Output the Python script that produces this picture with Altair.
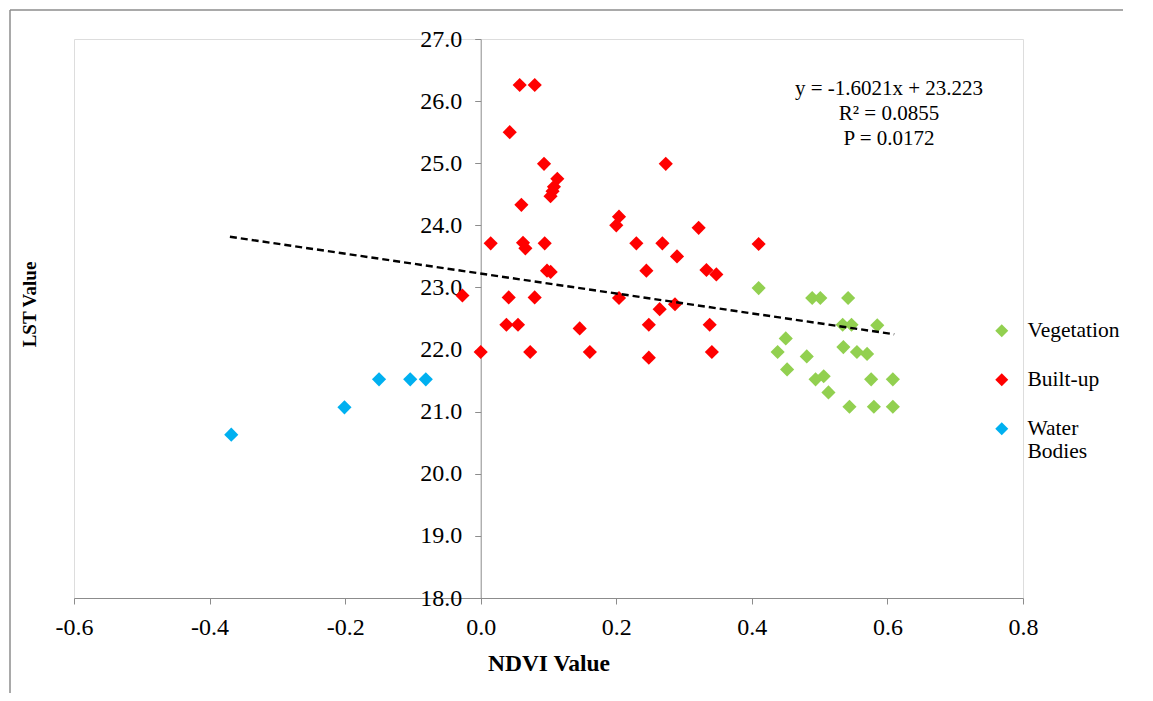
import altair as alt
import pandas as pd

# ---- data ----
veg_x = [0.410, 0.489, 0.501, 0.542, 0.534, 0.547, 0.585, 0.450, 0.438, 0.481, 0.535,
         0.555, 0.570, 0.452, 0.494, 0.506, 0.513, 0.576, 0.608, 0.544, 0.580, 0.608]
veg_y = [22.99, 22.83, 22.83, 22.83, 22.40, 22.40, 22.39, 22.18, 21.96, 21.89, 22.04,
         21.96, 21.93, 21.68, 21.52, 21.57, 21.31, 21.52, 21.52, 21.08, 21.08, 21.08]

built_x = [0.0575, 0.0797, 0.0428, 0.0934, 0.273, 0.113, 0.108, 0.106, 0.103, 0.060,
           0.200, 0.204, 0.3215, 0.0147, 0.0624, 0.0659, 0.0944, 0.2296, 0.268, 0.2896,
           0.410, 0.333, 0.3476, 0.0978, 0.1032, 0.2444, -0.027, 0.0413, 0.0796, 0.204,
           0.264, 0.2866, 0.0379, 0.055, 0.146, 0.248, 0.3378, 0.0, 0.073, 0.161, 0.248, 0.341]
built_y = [26.26, 26.26, 25.50, 24.99, 24.99, 24.75, 24.62, 24.55, 24.47, 24.33,
           24.00, 24.14, 23.96, 23.71, 23.72, 23.63, 23.71, 23.71, 23.71, 23.50,
           23.70, 23.28, 23.21, 23.27, 23.25, 23.27, 22.87, 22.84, 22.84, 22.83,
           22.65, 22.73, 22.40, 22.40, 22.34, 22.40, 22.40, 21.96, 21.96, 21.96, 21.87, 21.96]

water_x = [-0.368, -0.201, -0.150, -0.104, -0.081]
water_y = [20.63, 21.07, 21.52, 21.52, 21.52]

categories = ["Vegetation", "Built-up", "Water Bodies"]
colors = ["#92D050", "#FF0000", "#00B0F0"]

trend_x = [-0.37, 0.61]
trend_y = [23.816, 22.246]

annotation = "y = -1.6021x + 23.223\nR² = 0.0855\nP = 0.0172"

x_ticks = [-0.6, -0.4, -0.2, 0.0, 0.2, 0.4, 0.6, 0.8]
y_ticks = [18.0, 19.0, 20.0, 21.0, 22.0, 23.0, 24.0, 25.0, 26.0, 27.0]

# ---- tables ----
pts = pd.concat([
    pd.DataFrame({"NDVI": veg_x, "LST": veg_y, "Class": categories[0]}),
    pd.DataFrame({"NDVI": built_x, "LST": built_y, "Class": categories[1]}),
    pd.DataFrame({"NDVI": water_x, "LST": water_y, "Class": categories[2]}),
], ignore_index=True)
trend = pd.DataFrame({"NDVI": trend_x, "LST": trend_y})

W, H = 949, 559
FONT = "Liberation Serif"
LBL = "replace(format(datum.value, '.1f'), '\u2212', '-')"
LSIZE = 24

xscale = alt.Scale(domain=[-0.6, 0.8], nice=False, zero=False)
yscale = alt.Scale(domain=[18, 27], nice=False, zero=False)

xaxis = alt.Axis(values=x_ticks, labelExpr=LBL, grid=False, title="NDVI Value",
                 labelFont=FONT, labelFontSize=LSIZE, labelColor="black", labelPadding=11,
                 titleFont=FONT, titleFontSize=23.5, titleFontWeight="bold", titleColor="black",
                 titlePadding=12, domainColor="#8c8c8c", tickColor="#8c8c8c", tickSize=6,
                 labelFlush=False)
yaxis = alt.Axis(values=y_ticks, labelExpr=LBL, grid=False, title="LST Value",
                 labelFont=FONT, labelFontSize=LSIZE, labelColor="black", labelPadding=13,
                 titleFont=FONT, titleFontSize=19, titleFontWeight="bold", titleColor="black",
                 titleX=-451, titleY=265, titleAngle=270, titleAlign="center",
                 titleBaseline="middle",
                 domainColor="#8c8c8c", tickColor="#8c8c8c", tickSize=6,
                 offset=-406.7, labelFlush=False)

points = alt.Chart(pts).mark_point(shape="diamond", filled=True, size=200, opacity=1).encode(
    x=alt.X("NDVI:Q", scale=xscale, axis=xaxis),
    y=alt.Y("LST:Q", scale=yscale, axis=yaxis),
    color=alt.Color("Class:N", scale=alt.Scale(domain=categories, range=colors),
                    legend=alt.Legend(title=None, orient="none", legendX=917, legendY=281,
                                      symbolType="diamond", symbolSize=170,
                                      labelFont=FONT, labelFontSize=21.5, labelColor="black",
                                      labelOffset=15, rowPadding=26, padding=0,
                                      labelLimit=300,
                                      labelExpr="datum.label == 'Water Bodies' ? ['Water', 'Bodies'] : datum.label == 'Built-up' ? ' Built-up' : datum.label")),
)

line = alt.Chart(trend).mark_line(color="black", strokeWidth=2.4, strokeDash=[7, 4]).encode(
    x=alt.X("NDVI:Q", scale=xscale, axis=xaxis),
    y=alt.Y("LST:Q", scale=yscale, axis=yaxis),
)

note = alt.Chart(pd.DataFrame({"t": [annotation]})).mark_text(
    font=FONT, fontSize=21, align="center", baseline="middle", lineBreak="\n",
    lineHeight=25, color="black"
).encode(text="t:N", x=alt.value(815), y=alt.value(50))

one = pd.DataFrame({"a": [0]})
top_rule = alt.Chart(one).mark_rule(color="#8c8c8c", strokeWidth=1.5).encode(
    x=alt.value(-64), x2=alt.value(W + 100), y=alt.value(-29))
left_rule = alt.Chart(one).mark_rule(color="#8c8c8c", strokeWidth=1.5).encode(
    x=alt.value(-64), y=alt.value(-29), y2=alt.value(H + 300))

chart = alt.layer(top_rule, left_rule, points, line, note).properties(
    width=W, height=H,
    autosize=alt.AutoSizeParams(type="none"),
    padding={"left": 66, "top": 31, "right": 122, "bottom": 95},
).configure_view(stroke=None).configure_axis(
    labelFont=FONT, titleFont=FONT, labelFontSize=LSIZE
).configure_legend(labelFont=FONT).configure(background="white")

chart.save("out.html", embed_options={"renderer": "svg", "actions": False})
